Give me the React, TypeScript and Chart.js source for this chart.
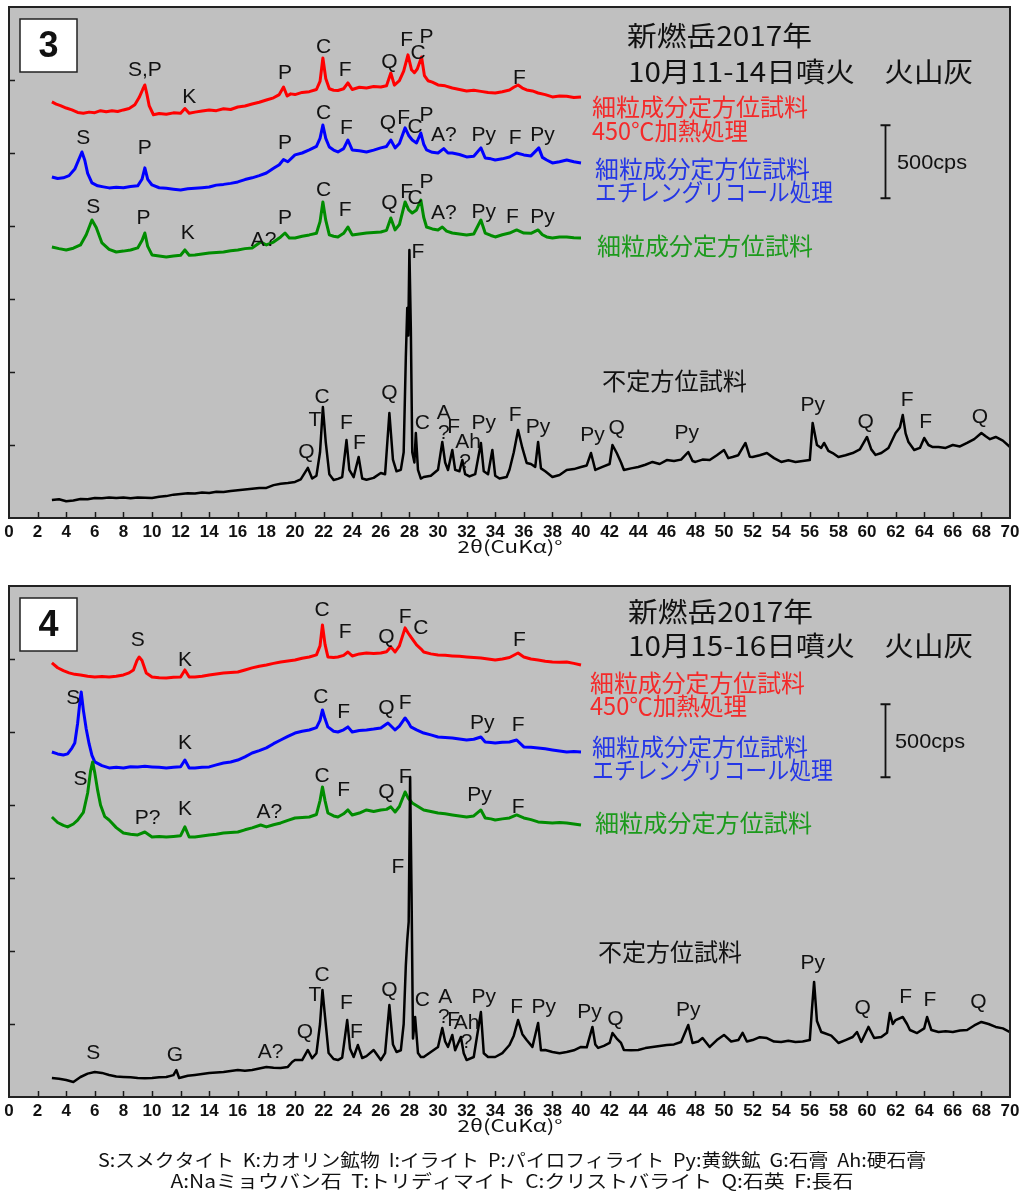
import { useEffect, useRef } from 'react';
import { Chart, registerables } from 'chart.js';

Chart.register(...registerables);

type Pt = [number, number];
type Lbl = [string, number, number];

// ---------- axis ----------
const X_MIN = 0;
const X_MAX = 70;
const X_STEP = 2;
const Y_MIN = 0;
const Y_MAX = 3500;
const Y_STEP = 500;

// ---------- Panel 3 (10月11-14日) traces: [2θ, cps] ----------
const P3_RED: Pt[] = [[3.0,2850],[3.3,2835],[3.6,2825],[4.0,2808],[4.4,2795],[4.8,2778],[5.2,2772],[5.6,2780],[6.0,2776],[6.4,2790],[6.8,2782],[7.2,2790],[7.6,2784],[8.0,2795],[8.4,2805],[8.8,2830],[9.1,2880],[9.35,2935],[9.5,2966],[9.65,2900],[9.8,2825],[10.1,2762],[10.5,2770],[11.0,2765],[11.5,2775],[12.0,2772],[12.3,2805],[12.6,2772],[13.0,2780],[13.5,2788],[14.0,2795],[14.5,2790],[15.0,2803],[15.5,2798],[16.0,2815],[16.5,2822],[17.0,2836],[17.5,2848],[18.0,2863],[18.5,2878],[18.9,2900],[19.2,2952],[19.45,2890],[19.7,2905],[20.0,2900],[20.5,2915],[21.0,2920],[21.5,2935],[21.75,2990],[21.95,3151],[22.15,3010],[22.4,2940],[22.7,2930],[23.0,2928],[23.4,2940],[23.7,2980],[24.0,2935],[24.5,2950],[25.0,2945],[25.5,2955],[26.0,2952],[26.4,2960],[26.7,3048],[26.95,2965],[27.3,2995],[27.6,3060],[27.9,3172],[28.15,3070],[28.35,3050],[28.55,3075],[28.85,3158],[29.05,3030],[29.3,2995],[29.6,2985],[30.0,2966],[30.5,2960],[31.0,2945],[31.5,2935],[32.0,2925],[32.5,2930],[33.0,2922],[33.5,2915],[34.0,2911],[34.5,2920],[35.0,2932],[35.3,2950],[35.6,2966],[35.9,2945],[36.2,2932],[36.6,2925],[37.0,2911],[37.5,2900],[38.0,2884],[38.5,2890],[39.0,2888],[39.5,2880],[40.0,2884]];
const P3_BLUE: Pt[] = [[3.0,2336],[3.4,2325],[3.8,2330],[4.2,2345],[4.6,2390],[4.9,2460],[5.1,2507],[5.3,2450],[5.5,2360],[5.8,2295],[6.2,2275],[6.6,2268],[7.0,2261],[7.5,2265],[8.0,2262],[8.5,2270],[9.0,2275],[9.3,2320],[9.5,2398],[9.7,2320],[10.0,2281],[10.5,2262],[11.0,2258],[11.5,2252],[12.0,2247],[12.5,2255],[13.0,2258],[13.5,2262],[14.0,2267],[14.5,2280],[15.0,2285],[15.5,2292],[16.0,2302],[16.5,2318],[17.0,2330],[17.5,2345],[18.0,2363],[18.5,2395],[18.9,2420],[19.2,2455],[19.5,2440],[20.0,2487],[20.5,2500],[21.0,2521],[21.5,2545],[21.75,2600],[21.95,2692],[22.15,2600],[22.4,2541],[22.7,2520],[23.0,2507],[23.4,2530],[23.7,2589],[24.0,2521],[24.5,2515],[25.0,2507],[25.5,2520],[26.0,2535],[26.4,2545],[26.7,2589],[27.0,2535],[27.3,2565],[27.7,2672],[27.95,2620],[28.2,2589],[28.5,2569],[28.8,2637],[29.0,2560],[29.2,2521],[29.6,2505],[30.0,2500],[30.4,2530],[30.7,2500],[31.0,2500],[31.5,2490],[32.0,2473],[32.5,2478],[33.0,2535],[33.3,2466],[33.7,2460],[34.0,2452],[34.5,2460],[35.0,2473],[35.5,2500],[36.0,2487],[36.5,2480],[37.05,2535],[37.3,2470],[37.6,2452],[38.0,2432],[38.5,2440],[39.0,2452],[39.5,2440],[40.0,2432]];
const P3_GREEN: Pt[] = [[3.0,1856],[3.5,1845],[4.0,1836],[4.5,1848],[5.0,1870],[5.4,1940],[5.8,2041],[6.1,1990],[6.5,1884],[7.0,1840],[7.5,1822],[8.0,1828],[8.5,1836],[9.0,1850],[9.3,1900],[9.5,1952],[9.7,1860],[10.0,1802],[10.5,1795],[11.0,1788],[11.5,1795],[12.0,1800],[12.3,1836],[12.6,1800],[13.0,1802],[13.5,1808],[14.0,1815],[14.5,1818],[15.0,1822],[15.5,1830],[16.0,1836],[16.5,1845],[17.0,1850],[17.6,1891],[18.0,1870],[18.5,1890],[19.0,1925],[19.3,1952],[19.6,1918],[20.0,1918],[20.5,1930],[21.0,1939],[21.5,1950],[21.75,2030],[21.95,2165],[22.15,2040],[22.4,1939],[22.7,1930],[23.0,1925],[23.4,1950],[23.7,1993],[24.0,1939],[24.5,1945],[25.0,1952],[25.5,1955],[26.0,1959],[26.4,1970],[26.7,2055],[27.0,1973],[27.3,2010],[27.7,2165],[27.95,2110],[28.2,2089],[28.5,2110],[28.8,2178],[29.0,2060],[29.2,1993],[29.6,1980],[30.0,1973],[30.3,1993],[30.6,1965],[31.0,1952],[31.5,1945],[32.0,1939],[32.5,1945],[33.0,2041],[33.3,1952],[33.7,1935],[34.0,1925],[34.5,1940],[35.0,1952],[35.5,1973],[36.0,1952],[36.5,1950],[37.0,1973],[37.3,1940],[37.6,1925],[38.0,1918],[38.5,1925],[39.0,1925],[39.5,1920],[40.0,1918]];
const P3_BLACK: Pt[] = [[3.0,123],[3.5,128],[4.0,115],[4.5,120],[5.0,130],[5.5,128],[6.0,137],[6.5,135],[7.0,140],[7.5,137],[8.0,140],[8.5,135],[9.0,140],[9.5,138],[10.0,137],[10.5,145],[11.0,150],[11.5,160],[12.0,165],[12.5,170],[13.0,168],[13.5,175],[14.0,171],[14.5,180],[15.0,178],[15.5,185],[16.0,190],[16.5,195],[17.0,200],[17.5,205],[18.0,206],[18.5,225],[19.0,235],[19.5,240],[20.0,247],[20.4,265],[20.9,343],[21.2,270],[21.5,290],[21.75,450],[21.95,760],[22.15,520],[22.4,300],[22.7,260],[23.0,268],[23.3,280],[23.6,534],[23.8,330],[24.1,280],[24.45,418],[24.7,270],[25.0,262],[25.5,275],[26.0,308],[26.3,300],[26.6,719],[26.85,400],[27.1,320],[27.4,330],[27.6,450],[27.75,1100],[27.85,1439],[27.92,1250],[28.0,1836],[28.1,1300],[28.2,450],[28.35,380],[28.45,582],[28.6,330],[28.8,270],[29.0,281],[29.5,290],[30.0,330],[30.3,521],[30.5,380],[30.7,329],[31.0,466],[31.2,330],[31.5,320],[31.7,397],[31.9,300],[32.2,285],[32.6,300],[33.0,514],[33.2,320],[33.5,300],[33.8,466],[34.0,290],[34.3,270],[34.8,281],[35.0,330],[35.3,450],[35.6,603],[35.9,480],[36.2,377],[36.5,370],[36.8,350],[37.0,521],[37.2,340],[37.5,320],[38.0,281],[38.5,295],[39.0,329],[39.5,335],[40.0,349],[40.4,360],[40.7,445],[41.0,329],[41.5,350],[42.0,370],[42.2,500],[42.5,445],[42.8,380],[43.0,329],[43.5,340],[44.0,349],[44.5,365],[45.0,384],[45.5,370],[46.0,397],[46.5,390],[47.0,400],[47.5,452],[47.8,390],[48.0,384],[48.5,400],[49.0,397],[49.5,430],[50.0,466],[50.3,410],[50.6,418],[51.0,430],[51.5,514],[51.8,420],[52.0,418],[52.5,430],[53.0,445],[53.5,410],[54.0,384],[54.5,395],[55.0,384],[55.5,390],[56.0,397],[56.2,651],[56.5,500],[56.8,480],[57.0,514],[57.3,460],[57.6,445],[58.0,418],[58.5,430],[59.0,445],[59.5,470],[60.0,555],[60.3,470],[60.6,432],[61.0,445],[61.5,480],[62.0,582],[62.3,620],[62.5,706],[62.7,580],[62.9,520],[63.3,466],[63.7,480],[64.0,548],[64.3,500],[64.6,486],[65.0,486],[65.5,480],[66.0,500],[66.5,490],[67.0,514],[67.5,540],[68.0,582],[68.3,560],[68.6,540],[69.0,555],[69.5,530],[70.0,486]];

// ---------- Panel 4 (10月15-16日) traces ----------
const P4_RED: Pt[] = [[3.0,2973],[3.4,2940],[3.8,2920],[4.2,2905],[4.6,2895],[5.0,2891],[5.5,2882],[6.0,2877],[6.5,2880],[7.0,2877],[7.5,2882],[8.0,2891],[8.4,2905],[8.7,2925],[8.95,2990],[9.1,3014],[9.3,2990],[9.6,2904],[10.0,2877],[10.5,2872],[11.0,2870],[11.5,2875],[12.0,2877],[12.3,2925],[12.6,2877],[13.0,2877],[13.5,2882],[14.0,2891],[14.5,2898],[15.0,2904],[15.5,2908],[16.0,2911],[16.5,2925],[17.0,2939],[17.5,2950],[18.0,2959],[18.5,2970],[19.0,2980],[19.5,2986],[20.0,2993],[20.5,3005],[21.0,3014],[21.5,3028],[21.75,3090],[21.92,3233],[22.1,3100],[22.3,3014],[22.7,3010],[23.0,3014],[23.4,3025],[23.7,3048],[24.0,3021],[24.5,3035],[25.0,3041],[25.5,3038],[26.0,3041],[26.4,3050],[26.7,3083],[27.0,3048],[27.3,3090],[27.7,3213],[27.9,3180],[28.1,3151],[28.5,3096],[28.8,3070],[29.0,3048],[29.5,3035],[30.0,3028],[30.5,3025],[31.0,3021],[31.5,3018],[32.0,3014],[32.5,3010],[33.0,3007],[33.5,3000],[34.0,2993],[34.5,3000],[35.0,3010],[35.6,3041],[36.0,3014],[36.5,3000],[37.0,2993],[37.5,2985],[38.0,2980],[38.5,2978],[39.0,2980],[39.5,2970],[40.0,2959]];
const P4_BLUE: Pt[] = [[3.0,2363],[3.4,2350],[3.8,2343],[4.1,2350],[4.4,2390],[4.6,2425],[4.8,2560],[4.95,2700],[5.05,2774],[5.2,2650],[5.4,2520],[5.6,2420],[5.8,2340],[6.0,2295],[6.5,2270],[7.0,2254],[7.5,2258],[8.0,2254],[8.5,2262],[9.0,2261],[9.5,2265],[10.0,2261],[10.5,2258],[11.0,2254],[11.5,2258],[12.0,2262],[12.3,2308],[12.6,2254],[13.0,2254],[13.5,2258],[14.0,2261],[14.5,2275],[15.0,2288],[15.5,2295],[16.0,2308],[16.5,2330],[17.0,2356],[17.5,2372],[18.0,2391],[18.5,2420],[19.0,2445],[19.5,2470],[20.0,2493],[20.5,2505],[21.0,2514],[21.5,2530],[21.75,2580],[21.92,2651],[22.1,2590],[22.3,2535],[22.7,2505],[23.0,2500],[23.4,2515],[23.7,2535],[24.0,2500],[24.5,2510],[25.0,2514],[25.5,2520],[26.0,2528],[26.5,2562],[27.0,2514],[27.3,2540],[27.7,2596],[27.9,2570],[28.1,2535],[28.5,2515],[29.0,2493],[29.5,2480],[30.0,2466],[30.5,2462],[31.0,2459],[31.5,2452],[32.0,2445],[32.5,2450],[33.0,2466],[33.3,2432],[33.7,2428],[34.0,2425],[34.5,2430],[35.0,2432],[35.5,2445],[36.0,2398],[36.5,2395],[37.0,2391],[37.5,2385],[38.0,2377],[38.5,2370],[39.0,2363],[39.5,2366],[40.0,2363]];
const P4_GREEN: Pt[] = [[3.0,1918],[3.4,1880],[3.8,1860],[4.1,1850],[4.5,1870],[4.8,1897],[5.2,1950],[5.5,2082],[5.7,2230],[5.85,2295],[6.0,2220],[6.2,2100],[6.4,2000],[6.7,1920],[7.0,1897],[7.5,1845],[8.0,1808],[8.5,1800],[9.0,1795],[9.5,1815],[10.0,1781],[10.5,1785],[11.0,1781],[11.5,1785],[12.0,1790],[12.3,1850],[12.6,1781],[13.0,1781],[13.5,1788],[14.0,1795],[14.5,1800],[15.0,1808],[15.5,1812],[16.0,1815],[16.5,1830],[17.0,1843],[17.6,1863],[18.0,1850],[18.5,1865],[19.0,1877],[19.5,1895],[20.0,1911],[20.5,1915],[21.0,1918],[21.5,1935],[21.75,2030],[21.92,2124],[22.1,2030],[22.3,1945],[22.7,1925],[23.0,1918],[23.4,1940],[23.7,1966],[24.0,1932],[24.5,1945],[25.0,1966],[25.5,1955],[26.0,1966],[26.4,1970],[26.7,1987],[27.0,1952],[27.3,1990],[27.7,2089],[27.9,2050],[28.2,2014],[28.6,1990],[29.0,1966],[29.5,1955],[30.0,1945],[30.5,1940],[31.0,1932],[31.5,1925],[32.0,1918],[32.5,1925],[33.0,1966],[33.3,1911],[33.7,1905],[34.0,1897],[34.5,1905],[35.0,1911],[35.5,1932],[36.0,1911],[36.5,1900],[37.0,1884],[37.5,1880],[38.0,1877],[38.5,1880],[39.0,1877],[39.5,1870],[40.0,1863]];
const P4_BLACK: Pt[] = [[3.0,130],[3.5,125],[4.0,116],[4.5,103],[5.0,137],[5.5,160],[6.0,171],[6.5,165],[7.0,151],[7.5,140],[8.0,137],[8.5,135],[9.0,130],[9.5,128],[10.0,130],[10.5,135],[11.0,137],[11.5,150],[11.7,185],[11.9,130],[12.5,145],[13.0,151],[13.5,158],[14.0,164],[14.5,168],[15.0,171],[15.5,178],[16.0,185],[16.5,180],[17.0,185],[17.5,195],[18.0,206],[18.5,200],[19.0,199],[19.5,206],[19.8,240],[20.0,253],[20.5,253],[20.9,322],[21.2,265],[21.5,300],[21.75,500],[21.92,733],[22.1,550],[22.35,301],[22.7,260],[23.0,253],[23.3,270],[23.65,527],[23.85,330],[24.1,274],[24.4,356],[24.7,267],[25.0,280],[25.5,322],[26.0,253],[26.3,300],[26.6,630],[26.85,360],[27.1,308],[27.4,320],[27.6,500],[27.75,900],[27.85,1075],[27.95,1200],[28.05,2192],[28.15,1400],[28.25,400],[28.4,548],[28.6,301],[28.8,274],[29.0,274],[29.5,308],[30.0,343],[30.3,473],[30.5,380],[30.7,343],[31.0,425],[31.2,320],[31.6,411],[31.8,300],[32.0,253],[32.5,274],[33.0,582],[33.2,300],[33.5,274],[34.0,274],[34.5,301],[35.0,356],[35.3,420],[35.6,527],[35.9,430],[36.2,390],[36.6,343],[37.0,507],[37.2,320],[37.5,322],[38.0,308],[38.5,300],[39.0,308],[39.5,320],[40.0,343],[40.4,340],[40.8,480],[41.0,360],[41.2,336],[41.6,350],[42.0,370],[42.2,438],[42.5,400],[42.8,370],[43.0,322],[43.5,320],[44.0,322],[44.5,335],[45.0,343],[45.5,350],[46.0,356],[46.5,360],[47.0,377],[47.5,493],[47.8,370],[48.2,380],[48.5,404],[49.0,343],[49.5,390],[50.0,425],[50.5,380],[51.0,390],[51.3,440],[51.6,380],[52.0,390],[52.5,410],[53.0,404],[53.5,380],[54.0,377],[54.5,385],[55.0,377],[55.5,380],[56.0,390],[56.15,600],[56.3,788],[56.5,520],[56.8,445],[57.0,438],[57.5,420],[58.0,370],[58.5,390],[59.0,411],[59.3,445],[59.6,377],[60.1,480],[60.5,404],[61.0,411],[61.4,440],[61.6,575],[61.8,500],[62.0,527],[62.5,548],[62.8,500],[63.0,459],[63.5,438],[64.0,470],[64.2,548],[64.5,459],[65.0,445],[65.5,450],[66.0,445],[66.5,455],[67.0,459],[67.5,490],[68.0,514],[68.5,500],[69.0,480],[69.5,470],[70.0,445]];

// ---------- peak labels: [text, 2θ, cps] ----------
const P3_LABELS: Lbl[] = [
  ['S,P',9.5,3069],['K',12.6,2884],['P',19.3,3048],['C',22.0,3226],['F',23.5,3069],['Q',26.6,3124],['F',27.8,3274],['C',28.6,3185],['P',29.2,3295],['F',35.7,3014],
  ['S',5.2,2603],['P',9.5,2535],['P',19.3,2569],['C',22.0,2774],['F',23.6,2672],['Q',26.5,2706],['F',27.6,2740],['C',28.4,2678],['P',29.2,2760],['A?',30.4,2624],['Py',33.2,2624],['F',35.4,2603],['Py',37.3,2624],
  ['S',5.9,2130],['P',9.4,2055],['K',12.5,1952],['A?',17.8,1904],['P',19.3,2055],['C',22.0,2247],['F',23.5,2110],['Q',26.6,2158],['F',27.8,2233],['C',28.4,2192],['P',29.2,2302],['A?',30.4,2089],['Py',33.2,2096],['F',35.2,2062],['Py',37.3,2062],
  ['Q',20.8,452],['T',21.4,671],['C',21.9,829],['F',23.6,651],['F',24.5,514],['Q',26.6,856],['F',28.6,1822],['C',28.9,651],['A',30.4,719],['?',30.4,582],['F',31.1,623],['Ah',32.1,521],['?',31.9,384],['Py',33.2,651],['F',35.4,706],['Py',37.0,623],['Py',40.8,569],['Q',42.5,617],['Py',47.4,582],['Py',56.2,774],['Q',59.9,658],['F',62.8,808],['F',64.1,658],['Q',67.9,692],
];
const P4_LABELS: Lbl[] = [
  ['S',9.0,3130],['K',12.3,2993],['C',21.9,3336],['F',23.5,3185],['Q',26.4,3151],['F',27.7,3288],['C',28.8,3213],['F',35.7,3130],
  ['S',4.5,2733],['K',12.3,2425],['C',21.8,2740],['F',23.4,2637],['Q',26.4,2665],['F',27.7,2699],['Py',33.1,2562],['F',35.6,2548],
  ['S',5.0,2178],['P?',9.7,1911],['K',12.3,1973],['A?',18.2,1952],['C',21.9,2199],['F',23.4,2103],['Q',26.4,2089],['F',27.7,2192],['Py',32.9,2069],['F',35.6,1987],
  ['S',5.9,301],['G',11.6,288],['A?',18.3,308],['Q',20.7,445],['T',21.4,699],['C',21.9,836],['F',23.6,644],['F',24.3,445],['Q',26.6,733],['F',27.2,1576],['C',28.9,664],['A',30.5,685],['?',30.4,548],['F',31.1,527],['Ah',32.0,507],['?',32.0,377],['Py',33.2,685],['F',35.5,617],['Py',37.4,617],['Py',40.6,582],['Q',42.4,534],['Py',47.5,596],['Py',56.2,918],['Q',59.7,610],['F',62.7,685],['F',64.4,664],['Q',67.8,651],
];

// 500 cps scale bar: [2θ, lower cps, upper cps]
const SCALE_BAR: [number, number, number] = [61.25, 2190, 2690];

// ---------- texts ----------
const TITLE_LINE1 = '新燃岳2017年';
const P3_TITLE_LINE2 = '10月11-14日噴火　火山灰';
const P4_TITLE_LINE2 = '10月15-16日噴火　火山灰';
const LBL_RED_1 = '細粒成分定方位試料';
const LBL_RED_2 = '450℃加熱処理';
const LBL_BLUE_1 = '細粒成分定方位試料';
const LBL_BLUE_2 = 'エチレングリコール処理';
const LBL_GREEN = '細粒成分定方位試料';
const LBL_BLACK = '不定方位試料';
const SCALE_TEXT = '500cps';
const X_TITLE = '2θ(CuKα)°';
const LEGEND_1 = 'S:スメクタイト  K:カオリン鉱物  I:イライト  P:パイロフィライト  Py:黄鉄鉱  G:石膏  Ah:硬石膏';
const LEGEND_2 = 'A:Naミョウバン石  T:トリディマイト  C:クリストバライト  Q:石英  F:長石';

const C_RED = '#ff0000';
const C_BLUE = '#0000ff';
const C_GREEN = '#008c00';
const C_BLACK = '#000000';
const T_RED = '#f42a2a';
const T_BLUE = '#2436e6';
const T_GREEN = '#1c9a1c';

const FONT_LAT = '"Liberation Sans", Arial, sans-serif';
const FONT_JP = '"Noto Sans CJK JP", "Noto Sans CJK SC", sans-serif';

type TextItem = { t: string; x: number; y: number; w: number; color: string; size: number; align: 'left' | 'center' };

interface PanelDef {
  num: string;
  red: Pt[]; blue: Pt[]; green: Pt[]; black: Pt[];
  labels: Lbl[];
  texts: TextItem[];
  scaleTextY: number;
  scaleTextX: number;
  legend: boolean;
}

const PANEL3: PanelDef = {
  num: '3', red: P3_RED, blue: P3_BLUE, green: P3_GREEN, black: P3_BLACK, labels: P3_LABELS,
  texts: [
    { t: TITLE_LINE1, x: 627, y: 36, w: 185, color: '#111', size: 27, align: 'left' },
    { t: P3_TITLE_LINE2, x: 628, y: 72, w: 345, color: '#111', size: 27, align: 'left' },
    { t: LBL_RED_1, x: 592, y: 107, w: 216, color: T_RED, size: 24, align: 'left' },
    { t: LBL_RED_2, x: 592, y: 131, w: 156, color: T_RED, size: 24, align: 'left' },
    { t: LBL_BLUE_1, x: 595, y: 169, w: 215, color: T_BLUE, size: 24, align: 'left' },
    { t: LBL_BLUE_2, x: 595, y: 192, w: 238, color: T_BLUE, size: 24, align: 'left' },
    { t: LBL_GREEN, x: 597, y: 246, w: 216, color: T_GREEN, size: 24, align: 'left' },
    { t: LBL_BLACK, x: 602, y: 381, w: 145, color: '#111', size: 24, align: 'left' },
  ],
  scaleTextX: 897, scaleTextY: 163, legend: false,
};

const PANEL4: PanelDef = {
  num: '4', red: P4_RED, blue: P4_BLUE, green: P4_GREEN, black: P4_BLACK, labels: P4_LABELS,
  texts: [
    { t: TITLE_LINE1, x: 628, y: 33, w: 185, color: '#111', size: 27, align: 'left' },
    { t: P4_TITLE_LINE2, x: 628, y: 67, w: 345, color: '#111', size: 27, align: 'left' },
    { t: LBL_RED_1, x: 590, y: 104, w: 215, color: T_RED, size: 24, align: 'left' },
    { t: LBL_RED_2, x: 590, y: 127, w: 157, color: T_RED, size: 24, align: 'left' },
    { t: LBL_BLUE_1, x: 592, y: 168, w: 216, color: T_BLUE, size: 24, align: 'left' },
    { t: LBL_BLUE_2, x: 592, y: 191, w: 241, color: T_BLUE, size: 24, align: 'left' },
    { t: LBL_GREEN, x: 595, y: 244, w: 217, color: T_GREEN, size: 24, align: 'left' },
    { t: LBL_BLACK, x: 598, y: 373, w: 144, color: '#111', size: 24, align: 'left' },
  ],
  scaleTextX: 895, scaleTextY: 163, legend: true,
};

function fitText(ctx: CanvasRenderingContext2D, text: string, x: number, y: number, w: number, align: 'left' | 'center') {
  const m = ctx.measureText(text).width;
  const sx = m > 0 ? w / m : 1;
  ctx.save();
  ctx.translate(x, y);
  ctx.scale(sx, 1);
  ctx.textAlign = align;
  ctx.textBaseline = 'middle';
  ctx.fillText(text, 0, 0);
  ctx.restore();
}

function makePlugin(p: PanelDef) {
  return {
    id: 'deco' + p.num,
    beforeDatasetsDraw(chart: any) {
      const { ctx, chartArea: a } = chart;
      ctx.save();
      ctx.fillStyle = '#c0c0c0';
      ctx.fillRect(a.left, a.top, a.right - a.left, a.bottom - a.top);
      ctx.restore();
    },
    afterDatasetsDraw(chart: any) {
      const { ctx, chartArea: a } = chart;
      const xs = chart.scales.x;
      const ys = chart.scales.y;
      ctx.save();
      // inward ticks
      ctx.strokeStyle = '#1a1a1a';
      ctx.lineWidth = 1.5;
      ctx.beginPath();
      for (let v = X_MIN + X_STEP; v < X_MAX; v += X_STEP) {
        const px = Math.round(xs.getPixelForValue(v)) + 0.5;
        ctx.moveTo(px, a.bottom);
        ctx.lineTo(px, a.bottom - 6);
      }
      for (let v = Y_MIN + Y_STEP; v < Y_MAX; v += Y_STEP) {
        const py = Math.round(ys.getPixelForValue(v)) + 0.5;
        ctx.moveTo(a.left, py);
        ctx.lineTo(a.left + 6, py);
      }
      ctx.stroke();
      // frame
      ctx.lineWidth = 2;
      ctx.strokeStyle = '#222';
      ctx.strokeRect(a.left, a.top, a.right - a.left, a.bottom - a.top);

      // peak labels
      ctx.fillStyle = '#111';
      ctx.font = `21px ${FONT_LAT}`;
      ctx.textAlign = 'center';
      ctx.textBaseline = 'middle';
      for (const [t, x, y] of p.labels) {
        ctx.fillText(t, xs.getPixelForValue(x), ys.getPixelForValue(y));
      }

      // panel number box
      ctx.fillStyle = '#ffffff';
      ctx.fillRect(20, 19, 57, 53);
      ctx.lineWidth = 1.5;
      ctx.strokeStyle = '#222';
      ctx.strokeRect(20, 19, 57, 53);
      ctx.fillStyle = '#111';
      ctx.font = `bold 36px ${FONT_LAT}`;
      ctx.fillText(p.num, 48.5, 47);

      // texts
      for (const it of p.texts) {
        ctx.fillStyle = it.color;
        ctx.font = `${it.size}px ${FONT_JP}`;
        fitText(ctx, it.t, it.x, it.y, it.w, it.align);
      }

      // scale bar
      const [sx, lo, hi] = SCALE_BAR;
      const bx = Math.round(xs.getPixelForValue(sx)) + 0.5;
      const by1 = ys.getPixelForValue(hi);
      const by2 = ys.getPixelForValue(lo);
      ctx.strokeStyle = '#111';
      ctx.lineWidth = 1.8;
      ctx.beginPath();
      ctx.moveTo(bx, by1); ctx.lineTo(bx, by2);
      ctx.moveTo(bx - 5, by1); ctx.lineTo(bx + 5, by1);
      ctx.moveTo(bx - 5, by2); ctx.lineTo(bx + 5, by2);
      ctx.stroke();
      ctx.fillStyle = '#111';
      ctx.font = `21px ${FONT_LAT}`;
      fitText(ctx, SCALE_TEXT, p.scaleTextX, p.scaleTextY, 70, 'left');

      // x axis title
      ctx.font = `17px ${FONT_JP}`;
      fitText(ctx, X_TITLE, 510, a.bottom + 29, 105, 'center');

      if (p.legend) {
        ctx.font = `18px ${FONT_JP}`;
        fitText(ctx, LEGEND_1, 512, a.bottom + 63, 828, 'center');
        fitText(ctx, LEGEND_2, 512, a.bottom + 84, 683, 'center');
      }
      ctx.restore();
    },
  };
}

function toXY(pts: Pt[]) {
  return pts.map(([x, y]) => ({ x, y }));
}

function Panel({ def, height, top }: { def: PanelDef; height: number; top: number }) {
  const ref = useRef<HTMLCanvasElement>(null);
  useEffect(() => {
    if (!ref.current) return;
    const axisH = height - 518;
    const mk = (data: Pt[], color: string, order: number, w: number) => ({
      data: toXY(data), borderColor: color, backgroundColor: color, borderWidth: w,
      pointRadius: 0, tension: 0, fill: false, order, borderJoinStyle: 'round' as const,
    });
    const chart = new Chart(ref.current, {
      type: 'line',
      data: {
        datasets: [
          mk(def.black, C_BLACK, 0, 2.5),
          mk(def.green, C_GREEN, 1, 3),
          mk(def.blue, C_BLUE, 2, 3),
          mk(def.red, C_RED, 3, 3),
        ],
      },
      options: {
        animation: false,
        responsive: false,
        maintainAspectRatio: false,
        layout: { padding: { left: 9, right: 15, top: 7, bottom: 0 } },
        plugins: { legend: { display: false }, tooltip: { enabled: false } },
        scales: {
          x: {
            type: 'linear', min: X_MIN, max: X_MAX,
            ticks: { stepSize: X_STEP, autoSkip: false, maxRotation: 0, color: '#111', padding: 4,
              font: { family: FONT_LAT, size: 17, weight: 'bold' } },
            grid: { display: false, drawTicks: false },
            border: { display: false },
            afterFit: (s: any) => { s.height = axisH; },
          },
          y: {
            type: 'linear', min: Y_MIN, max: Y_MAX,
            ticks: { display: false, stepSize: Y_STEP },
            grid: { display: false, drawTicks: false },
            border: { display: false },
            afterFit: (s: any) => { s.width = 0; },
          },
        },
      } as any,
      plugins: [makePlugin(def)],
    });
    return () => chart.destroy();
  }, [def, height]);
  return (
    <canvas ref={ref} width={1025} height={height}
      style={{ position: 'absolute', left: 0, top, width: 1025, height, display: 'block' }} />
  );
}

export default function App() {
  return (
    <div style={{ position: 'absolute', left: 0, top: 0, width: 1025, height: 1194, background: '#fff' }}>
      <Panel def={PANEL3} height={570} top={0} />
      <Panel def={PANEL4} height={615} top={579} />
    </div>
  );
}
